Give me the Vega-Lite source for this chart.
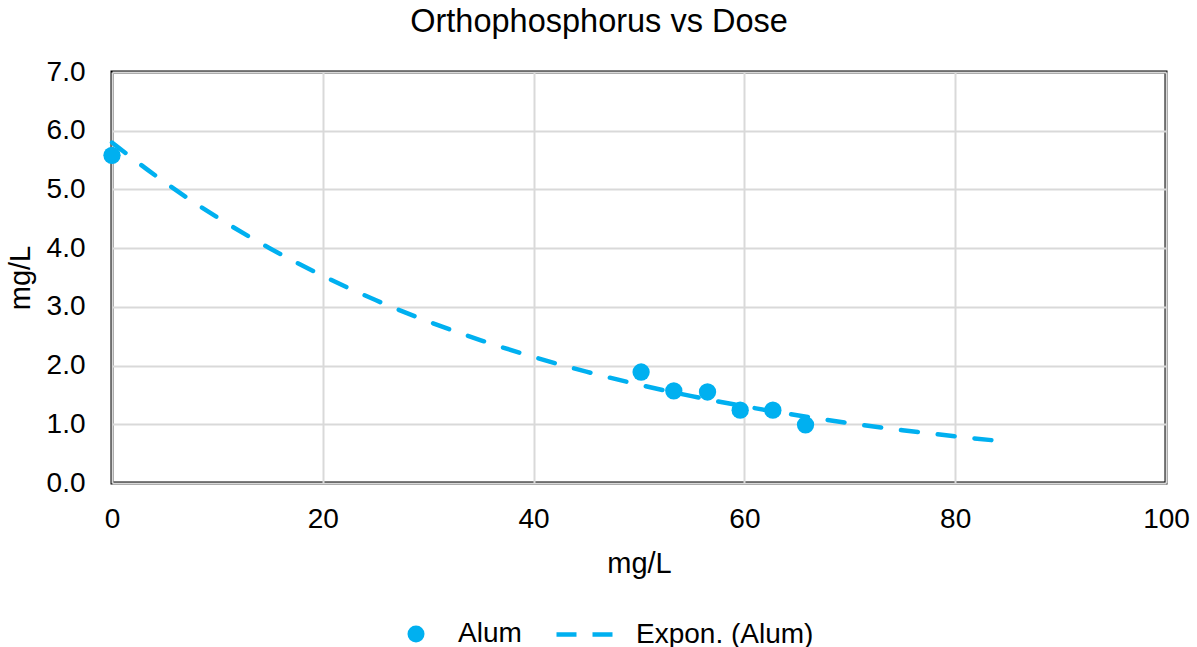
{
  "$schema": "https://vega.github.io/schema/vega-lite/v6.json",
  "width": 1054,
  "height": 411,
  "autosize": {"type": "none"},
  "padding": {"left": 112, "top": 72, "right": 31, "bottom": 164},
  "background": "white",
  "title": {"text": "Orthophosphorus vs Dose", "font": "Liberation Sans", "fontSize": 32.5, "fontWeight": "normal", "color": "black", "anchor": "middle", "dx": -40, "offset": 20},
  "config": {
    "font": "Liberation Sans",
    "view": {"stroke": "black", "strokeWidth": 3},
    "axis": {"labelFont": "Liberation Sans", "labelFontSize": 28, "labelColor": "black", "titleFont": "Liberation Sans", "titleFontSize": 29, "titleFontWeight": "normal", "titleColor": "black", "ticks": false, "domain": false, "gridColor": "#d9d9d9", "gridWidth": 2, "labelFlush": false},
    "legend": {"labelFont": "Liberation Sans", "labelFontSize": 28, "labelColor": "black", "padding": 0, "labelLimit": 400}
  },
  "datasets": {
    "alum": [
      {"dose": 0, "p": 5.58, "s1": "Alum"},
      {"dose": 50.2, "p": 1.89, "s1": "Alum"},
      {"dose": 53.3, "p": 1.57, "s1": "Alum"},
      {"dose": 56.5, "p": 1.55, "s1": "Alum"},
      {"dose": 59.6, "p": 1.24, "s1": "Alum"},
      {"dose": 62.7, "p": 1.24, "s1": "Alum"},
      {"dose": 65.8, "p": 0.99, "s1": "Alum"}
    ],
    "trend": [
      {"dose": 0, "p": 5.799, "s2": "Expon. (Alum)"},
      {"dose": 5, "p": 5.122, "s2": "Expon. (Alum)"},
      {"dose": 10, "p": 4.523, "s2": "Expon. (Alum)"},
      {"dose": 15, "p": 3.995, "s2": "Expon. (Alum)"},
      {"dose": 20, "p": 3.528, "s2": "Expon. (Alum)"},
      {"dose": 25, "p": 3.116, "s2": "Expon. (Alum)"},
      {"dose": 30, "p": 2.752, "s2": "Expon. (Alum)"},
      {"dose": 35, "p": 2.431, "s2": "Expon. (Alum)"},
      {"dose": 40, "p": 2.147, "s2": "Expon. (Alum)"},
      {"dose": 45, "p": 1.896, "s2": "Expon. (Alum)"},
      {"dose": 50, "p": 1.675, "s2": "Expon. (Alum)"},
      {"dose": 55, "p": 1.479, "s2": "Expon. (Alum)"},
      {"dose": 60, "p": 1.306, "s2": "Expon. (Alum)"},
      {"dose": 65, "p": 1.154, "s2": "Expon. (Alum)"},
      {"dose": 70, "p": 1.019, "s2": "Expon. (Alum)"},
      {"dose": 75, "p": 0.900, "s2": "Expon. (Alum)"},
      {"dose": 80, "p": 0.795, "s2": "Expon. (Alum)"},
      {"dose": 84.2, "p": 0.716, "s2": "Expon. (Alum)"}
    ]
  },
  "layer": [
    {
      "data": {"name": "alum"},
      "mark": {"type": "point", "filled": true, "size": 300, "color": "#00b0f0", "opacity": 1},
      "encoding": {
        "x": {"field": "dose", "type": "quantitative", "scale": {"domain": [0, 100]},
              "axis": {"values": [0, 20, 40, 60, 80, 100], "title": "mg/L", "labelPadding": 22, "titlePadding": 16, "grid": true}},
        "y": {"field": "p", "type": "quantitative", "scale": {"domain": [0, 7]},
              "axis": {"values": [0, 1, 2, 3, 4, 5, 6, 7], "format": ".1f", "title": "mg/L", "labelPadding": 27, "titlePadding": 11, "grid": true}},
        "shape": {"field": "s1", "type": "nominal", "scale": {"range": ["circle"]},
                  "legend": {"orient": "none", "legendX": 290, "legendY": 548, "title": null, "labelOffset": 28, "symbolSize": 290, "symbolFillColor": "#00b0f0", "symbolStrokeWidth": 0}}
      }
    },
    {
      "data": {"name": "trend"},
      "mark": {"type": "line", "color": "#00b0f0", "strokeDash": [17, 20], "strokeCap": "round", "interpolate": "monotone"},
      "encoding": {
        "x": {"field": "dose", "type": "quantitative"},
        "y": {"field": "p", "type": "quantitative"},
        "strokeWidth": {"field": "s2", "type": "nominal", "scale": {"range": [4.5, 4.5]},
                       "legend": {"orient": "none", "legendX": 442, "legendY": 531, "title": null, "labelOffset": 19, "symbolType": "stroke", "symbolSize": 3364, "symbolDash": [20, 16], "symbolStrokeColor": "#00b0f0",
                                  "encoding": {"symbols": {"update": {"strokeDash": {"value": [20, 16]}}}}}}
      }
    }
  ]
}
